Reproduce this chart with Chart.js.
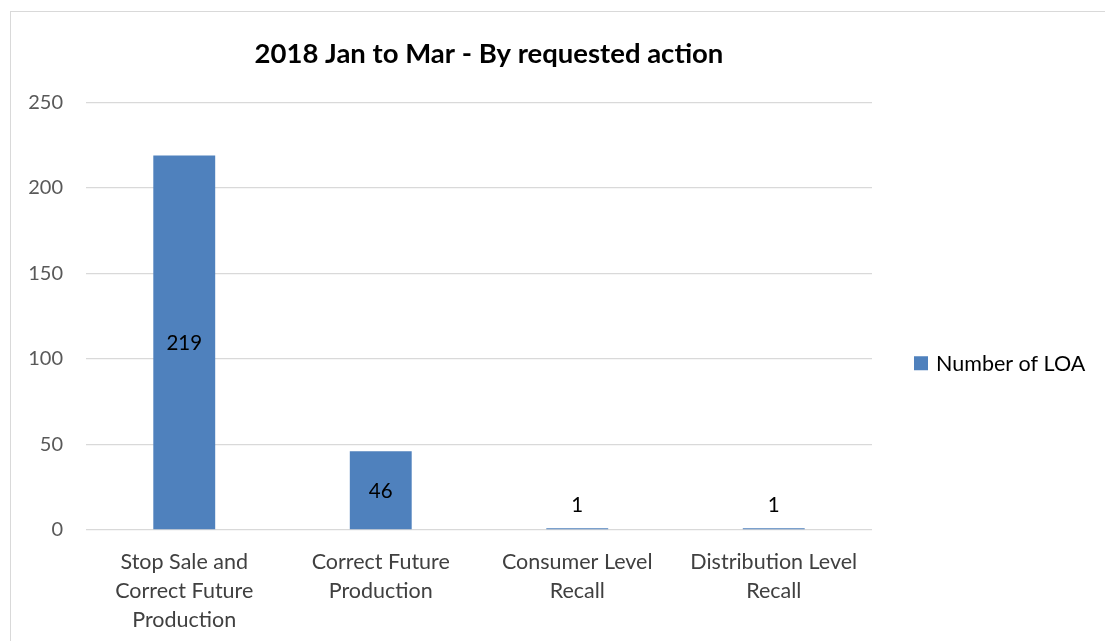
<!DOCTYPE html>
<html>
<head>
<meta charset="utf-8">
<script src="https://cdn.jsdelivr.net/npm/chart.js@4/dist/chart.umd.min.js"></script>
<style>
html,body{margin:0;padding:0;background:#fff;overflow:hidden;}
#wrap{position:relative;width:1105px;height:641px;}
</style>
</head>
<body>
<div id="wrap"><canvas id="c" width="1105" height="641"></canvas></div>
<script>
const titleText = "2018 Jan to Mar - By requested action";
const seriesName = "Number of LOA";
const categories = [
  ["Stop Sale and", "Correct Future", "Production"],
  ["Correct Future", "Production"],
  ["Consumer Level", "Recall"],
  ["Distribution Level", "Recall"]
];
const values = [219, 46, 1, 1];
const yMin = 0, yMax = 250, yStep = 50;

const FONT = "Lato";
const BAR = "#4F81BD";

const frame = {
  id: "frame",
  beforeDraw(chart) {
    const ctx = chart.ctx;
    ctx.save();
    ctx.fillStyle = "#fff";
    ctx.fillRect(0, 0, chart.width, chart.height);
    ctx.strokeStyle = "#D9D9D9";
    ctx.lineWidth = 1;
    ctx.strokeRect(10.5, 11.5, 3000, 3000);
    ctx.restore();
  },
  afterDraw(chart) {
    const ctx = chart.ctx;
    const ca = chart.chartArea;
    ctx.save();
    ctx.font = "bold 27.5px " + FONT;
    ctx.fillStyle = "#000";
    ctx.textAlign = "center";
    ctx.textBaseline = "middle";
    ctx.fillText(titleText, (ca.left + ca.right) / 2 + 10, 54);
    ctx.restore();
  }
};

const labelsPlugin = {
  id: "valueLabels",
  afterDatasetsDraw(chart) {
    const ctx = chart.ctx;
    const meta = chart.getDatasetMeta(0);
    ctx.save();
    ctx.font = "20.5px " + FONT;
    ctx.fillStyle = "#000";
    ctx.textAlign = "center";
    ctx.textBaseline = "middle";
    meta.data.forEach((bar, i) => {
      const v = chart.data.datasets[0].data[i];
      const h = bar.base - bar.y;
      let y = (bar.y + bar.base) / 2 + 1;
      if (h < 30) y = bar.y - 23;
      ctx.fillText(String(v), bar.x, y);
    });
    ctx.restore();
  }
};

const legendPlugin = {
  id: "sideLegend",
  afterDraw(chart) {
    const ctx = chart.ctx;
    const ds = chart.data.datasets[0];
    const ca = chart.chartArea;
    const cy = (ca.top + ca.bottom) / 2 + 47;
    const x0 = ca.right + 42;
    ctx.save();
    ctx.fillStyle = ds.backgroundColor;
    ctx.fillRect(x0, cy - 7, 14, 14);
    ctx.font = "21.5px " + FONT;
    ctx.fillStyle = "#000";
    ctx.textAlign = "left";
    ctx.textBaseline = "middle";
    ctx.fillText(ds.label, x0 + 22, cy + 1);
    ctx.restore();
  }
};

new Chart(document.getElementById("c"), {
  type: "bar",
  data: {
    labels: categories,
    datasets: [{
      label: seriesName,
      data: values,
      backgroundColor: BAR,
      borderWidth: 0,
      barPercentage: 0.315,
      categoryPercentage: 1.0
    }]
  },
  options: {
    responsive: false,
    animation: false,
    layout: { padding: { left: 0, right: 233, top: 102.5, bottom: 0 } },
    plugins: {
      legend: { display: false },
      tooltip: { enabled: false },
      title: { display: false }
    },
    scales: {
      x: {
        grid: { display: false, drawTicks: false },
        border: { display: false },
        ticks: {
          color: "#404040",
          font: { family: FONT, size: 21.5, lineHeight: 1.36 },
          padding: 17,
          maxRotation: 0,
          autoSkip: false
        },
        afterFit(s) { s.height = 111; }
      },
      y: {
        min: yMin,
        max: yMax,
        grid: { color: "#D9D9D9", lineWidth: 1.3, drawTicks: false },
        border: { display: false },
        ticks: {
          stepSize: yStep,
          color: "#595959",
          font: { family: FONT, size: 20 },
          padding: 23
        },
        afterFit(s) { s.width = 86; }
      }
    }
  },
  plugins: [frame, labelsPlugin, legendPlugin]
});
</script>
</body>
</html>
